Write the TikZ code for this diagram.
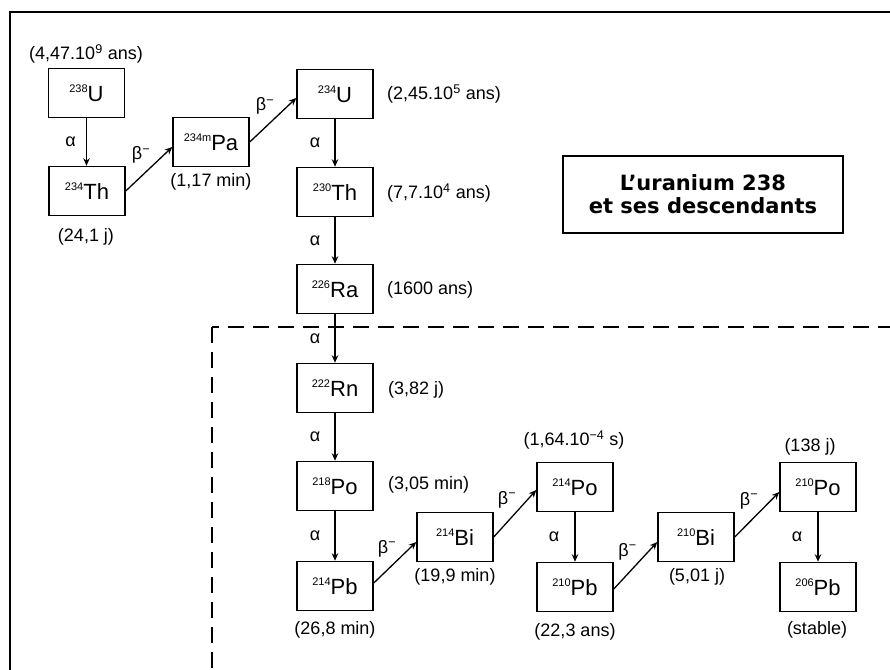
\documentclass[tikz,border=0pt]{standalone}
\usepackage{fontspec}
\setmainfont{Liberation Sans}
\newfontfamily\titlefont{DejaVu Sans}
\usetikzlibrary{arrows.meta}
\newcommand\iso[2]{\raisebox{9pt}{\fontsize{11}{11}\selectfont #1}#2}
\begin{document}
\begin{tikzpicture}[x=1pt,y=-1pt,
  nuc/.style={draw, line width=1.5pt, minimum width=76pt, minimum height=49pt, inner sep=0pt, font=\fontsize{22}{22}\selectfont},
  ann/.style={font=\fontsize{18}{18}\selectfont, inner sep=0pt},
  lab/.style={font=\fontsize{18}{18}\selectfont, inner sep=0pt},
  arr/.style={line width=1.3pt, -{Stealth[length=7.5pt,width=6.5pt]}},
  bet/.style={lab, midway, xshift=-8pt, yshift=14pt},
]
\useasboundingbox (0,0) rectangle (890,669);
\clip (0,0) rectangle (890,669);
\draw[line width=1.6pt] (10,12) rectangle (930,700);
\draw[line width=2pt, dash pattern=on 16pt off 9pt] (212,327) rectangle (930,700);

% nuclides
\node[nuc] (u238)  at (86.5,93)  {\iso{238}{U}};
\node[nuc] (th234) at (87,191)   {\iso{234}{Th}};
\node[nuc] (pa)    at (211,142)  {\iso{234m}{Pa}};
\node[nuc] (u234)  at (335,94)   {\iso{234}{U}};
\node[nuc] (th230) at (335,192)  {\iso{230}{Th}};
\node[nuc] (ra)    at (335,289)  {\iso{226}{Ra}};
\node[nuc] (rn)    at (335,388)  {\iso{222}{Rn}};
\node[nuc] (po218) at (335,486)  {\iso{218}{Po}};
\node[nuc] (pb214) at (335,586)  {\iso{214}{Pb}};
\node[nuc] (bi214) at (455,537)  {\iso{214}{Bi}};
\node[nuc] (po214) at (575,487)  {\iso{214}{Po}};
\node[nuc] (pb210) at (575,587)  {\iso{210}{Pb}};
\node[nuc] (bi210) at (696,537)  {\iso{210}{Bi}};
\node[nuc] (po210) at (818,487)  {\iso{210}{Po}};
\node[nuc] (pb206) at (818,587)  {\iso{206}{Pb}};

% title
\node[draw, line width=2pt, minimum width=280pt, minimum height=77pt, align=center,
      font=\titlefont\bfseries\fontsize{21}{23}\selectfont] (title) at (703,194.5)
      {L’uranium 238\\et ses descendants};

% half-lives
\node[ann] (a1)  at (86,54)    {(4,47.10\textsuperscript{9} ans)};
\node[ann] (a2)  at (86,237)   {(24,1 j)};
\node[ann] (a3)  at (211,182)  {(1,17 min)};
\node[ann, anchor=west] (a4) at (387,94)  {(2,45.10\textsuperscript{5} ans)};
\node[ann, anchor=west] (a5) at (387,193) {(7,7.10\textsuperscript{4} ans)};
\node[ann, anchor=west] (a6) at (387,290) {(1600 ans)};
\node[ann, anchor=west] (a7) at (388,390) {(3,82 j)};
\node[ann, anchor=west] (a8) at (388,485) {(3,05 min)};
\node[ann] (a9)  at (335,630)  {(26,8 min)};
\node[ann] (a10) at (455,577)  {(19,9 min)};
\node[ann] (a11) at (574,440)  {(1,64.10\textsuperscript{−4} s)};
\node[ann] (a12) at (575,632)  {(22,3 ans)};
\node[ann] (a13) at (697,577)  {(5,01 j)};
\node[ann] (a14) at (810,447)  {(138 j)};
\node[ann] (a15) at (817,630)  {(stable)};

% alpha decays
\draw[arr] (u238.south) -- node[lab, midway, left=10pt]{α} (u238.south |- th234.north);
\draw[arr] (u234) -- node[lab, midway, left=14pt]{α} (th230);
\draw[arr] (th230) -- node[lab, midway, left=14pt]{α} (ra);
\draw[arr] (ra) -- node[lab, midway, left=14pt]{α} (rn);
\draw[arr] (rn) -- node[lab, midway, left=14pt]{α} (po218);
\draw[arr] (po218) -- node[lab, midway, left=14pt]{α} (pb214);
\draw[arr] (po214) -- node[lab, midway, left=15pt]{α} (pb210);
\draw[arr] (po210) -- node[lab, midway, left=15pt]{α} (pb206);

% beta decays
\draw[arr] (th234.east) -- node[bet]{β\textsuperscript{−}} ([yshift=-5pt]pa.west);
\draw[arr] (pa.east) -- node[bet]{β\textsuperscript{−}} ([yshift=-4pt]u234.west);
\draw[arr] ([yshift=3pt]pb214.east) -- node[bet]{β\textsuperscript{−}} ([yshift=-5pt]bi214.west);
\draw[arr] (bi214.east) -- node[bet]{β\textsuperscript{−}} ([yshift=-3pt]po214.west);
\draw[arr] ([yshift=-2pt]pb210.east) -- node[bet]{β\textsuperscript{−}} ([yshift=-5pt]bi210.west);
\draw[arr] (bi210.east) -- node[bet]{β\textsuperscript{−}} ([yshift=-5pt]po210.west);
\end{tikzpicture}
\end{document}
